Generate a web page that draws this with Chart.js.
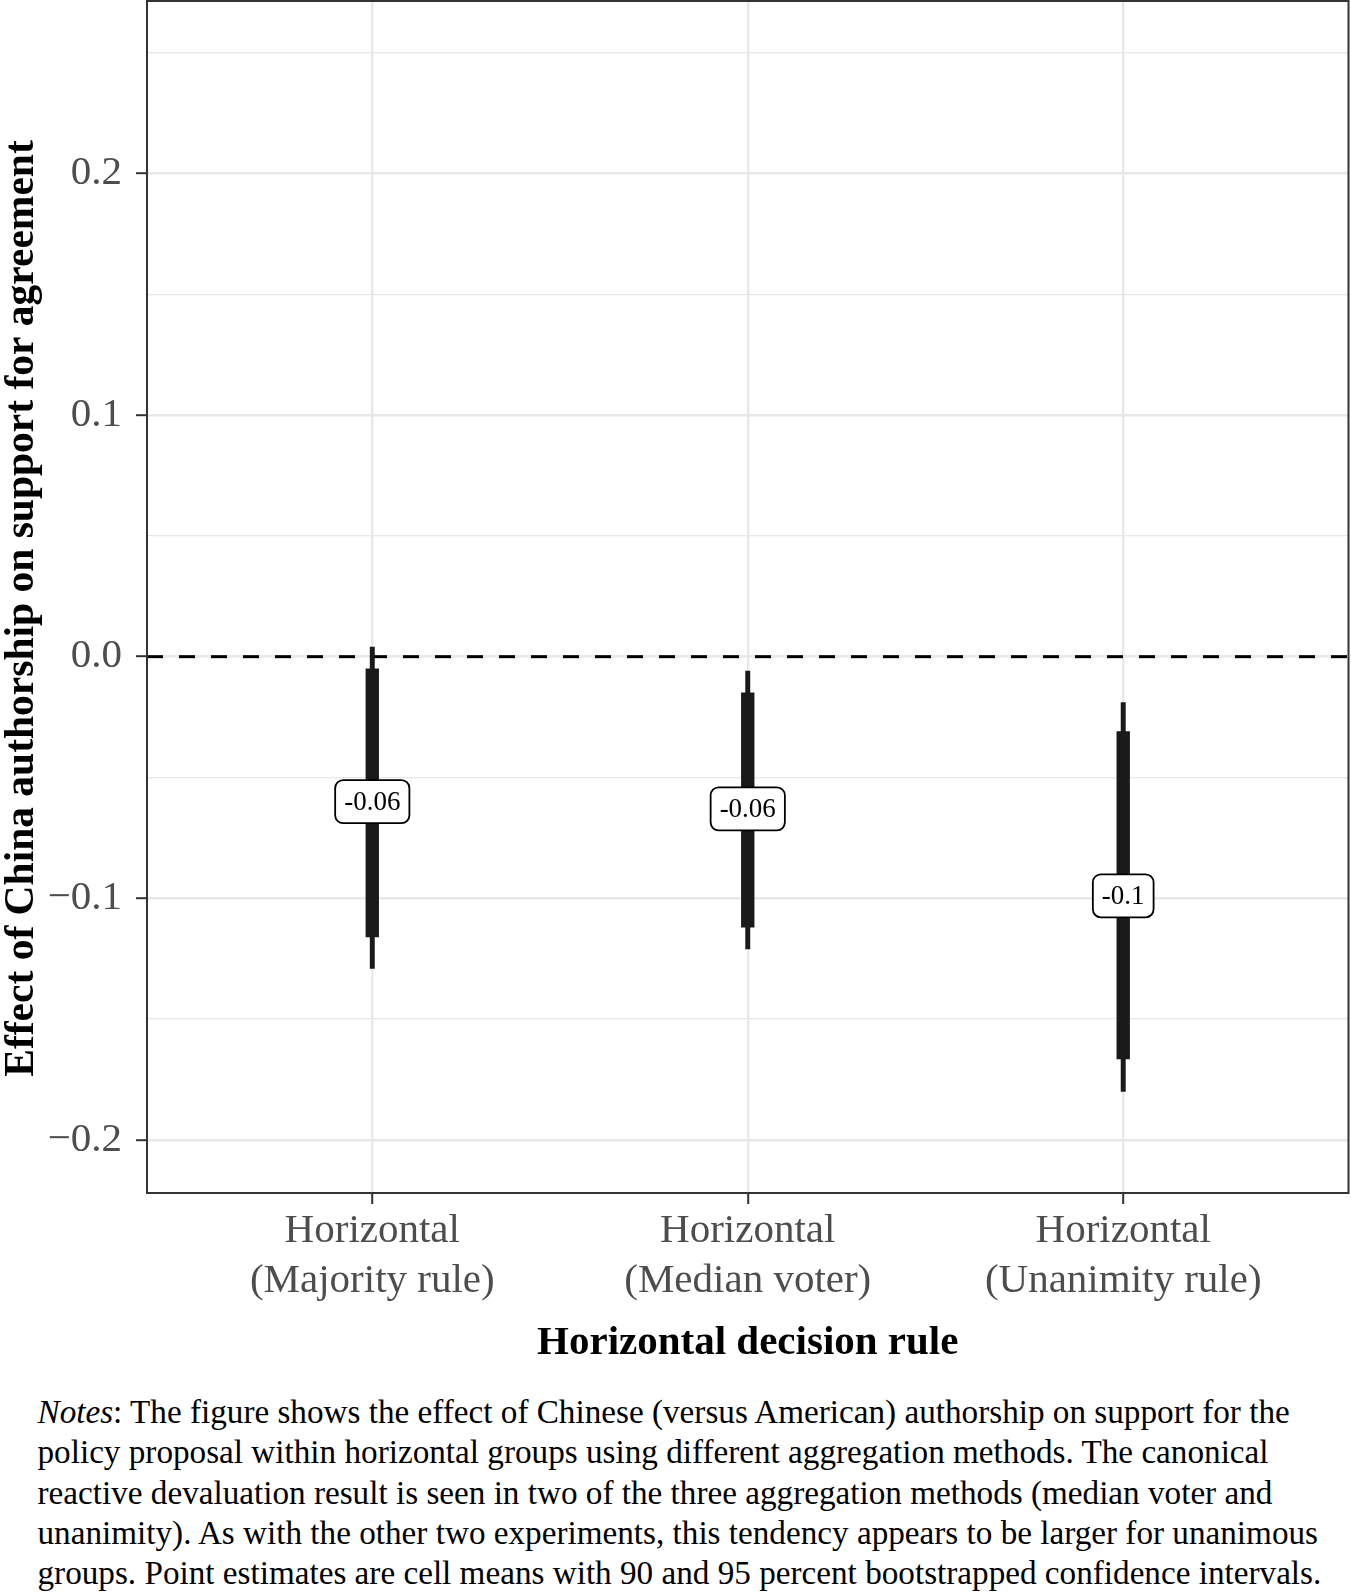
<!DOCTYPE html>
<html>
<head>
<meta charset="utf-8">
<script src="https://cdn.jsdelivr.net/npm/chart.js@4.4.1/dist/chart.umd.min.js"></script>
<style>
  html, body { margin: 0; padding: 0; background: #ffffff; }
  body { width: 1351px; height: 1592px; position: relative; overflow: hidden; }
  #chart { position: absolute; left: 0; top: 0; }
  #notes {
    position: absolute; left: 37.5px; top: 1392px;
    font-family: "Liberation Serif", serif; font-size: 33.2px; line-height: 40.3px;
    color: #000; white-space: nowrap;
  }
</style>
</head>
<body>
<canvas id="chart" width="1351" height="1380"></canvas>
<div id="notes">
<i>Notes</i>: The figure shows the effect of Chinese (versus American) authorship on support for the<br>
policy proposal within horizontal groups using different aggregation methods. The canonical<br>
reactive devaluation result is seen in two of the three aggregation methods (median voter and<br>
unanimity). As with the other two experiments, this tendency appears to be larger for unanimous<br>
groups. Point estimates are cell means with 90 and 95 percent bootstrapped confidence intervals.
</div>
<script>
// ---- data ----
const categories = [
  ["Horizontal", "(Majority rule)"],
  ["Horizontal", "(Median voter)"],
  ["Horizontal", "(Unanimity rule)"]
];
const categoryPos = [1, 2, 3];
const estimate = [-0.060, -0.063, -0.099];
const ci90Low  = [-0.116, -0.112, -0.1665];
const ci90High = [-0.005, -0.015, -0.031];
const ci95Low  = [-0.129, -0.121, -0.180];
const ci95High = [0.004, -0.006, -0.019];
const yMajorTicks = [-0.2, -0.1, 0.0, 0.1, 0.2];
const yMinorTicks = [-0.15, -0.05, 0.05, 0.15, 0.25];
const xTitle = "Horizontal decision rule";
const yTitle = "Effect of China authorship on support for agreement";

// ---- helpers ----
const SERIF = '"Liberation Serif", "Times New Roman", serif';
const isMajor = v => yMajorTicks.some(t => Math.abs(t - v) < 1e-9);
const fmtTick = v => {
  const s = Math.abs(v).toFixed(1);
  return v < -1e-9 ? "\u2212" + s : s;
};
const fmtLabel = v => String(Math.round(v * 100) / 100);

const panelPlugin = {
  id: 'panel',
  beforeDatasetsDraw(chart) {
    const {ctx, chartArea: a, scales: {y}} = chart;
    const yy = y.getPixelForValue(0);
    ctx.save();
    ctx.strokeStyle = '#000000';
    ctx.lineWidth = 3;
    ctx.setLineDash([16, 16]);
    ctx.beginPath();
    ctx.moveTo(a.left, yy);
    ctx.lineTo(a.right, yy);
    ctx.stroke();
    ctx.restore();
  },
  afterDatasetsDraw(chart) {
    const {ctx, scales: {x, y}} = chart;
    ctx.save();
    ctx.font = '27px ' + SERIF;
    ctx.textAlign = 'center';
    ctx.textBaseline = 'middle';
    estimate.forEach((v, i) => {
      const px = x.getPixelForValue(categoryPos[i]);
      const py = y.getPixelForValue(v);
      const text = fmtLabel(v);
      const w = ctx.measureText(text).width + 18;
      const h = 43;
      ctx.beginPath();
      ctx.roundRect(px - w / 2, py - h / 2, w, h, 8);
      ctx.fillStyle = '#ffffff';
      ctx.fill();
      ctx.lineWidth = 1.8;
      ctx.strokeStyle = '#000000';
      ctx.stroke();
      ctx.fillStyle = '#000000';
      ctx.fillText(text, px, py + 1);
    });
    ctx.restore();
  },
  afterDraw(chart) {
    const {ctx, chartArea: a} = chart;
    ctx.save();
    ctx.strokeStyle = '#333333';
    ctx.lineWidth = 2;
    ctx.strokeRect(a.left, a.top, a.right - a.left, a.bottom - a.top);
    // y-axis title
    ctx.translate(22, 608.5);
    ctx.rotate(-Math.PI / 2);
    ctx.font = 'bold 41.5px ' + SERIF;
    ctx.fillStyle = '#000000';
    ctx.textAlign = 'center';
    ctx.textBaseline = 'middle';
    ctx.fillText(yTitle, 0, 0);
    ctx.restore();
  }
};

const PLOT_BOTTOM = 1193;
const CANVAS_H = 1380;

new Chart(document.getElementById('chart'), {
  type: 'bar',
  data: {
    datasets: [
      {
        label: '95% CI',
        data: categoryPos.map((p, i) => ({x: p, y: [ci95Low[i], ci95High[i]]})),
        backgroundColor: '#1a1a1a',
        barThickness: 4.3,
        grouped: false,
        borderWidth: 0,
        order: 2
      },
      {
        label: '90% CI',
        data: categoryPos.map((p, i) => ({x: p, y: [ci90Low[i], ci90High[i]]})),
        backgroundColor: '#1a1a1a',
        barThickness: 12.7,
        grouped: false,
        borderWidth: 0,
        order: 1
      }
    ]
  },
  options: {
    responsive: false,
    animation: false,
    layout: { padding: { top: 1, right: 2.5, bottom: 0, left: 0 } },
    plugins: { legend: { display: false }, tooltip: { enabled: false } },
    scales: {
      x: {
        type: 'linear',
        min: 0.4,
        max: 3.6,
        offset: false,
        afterBuildTicks: s => { s.ticks = categoryPos.map(v => ({value: v})); },
        afterFit: s => {
          s.height = CANVAS_H - PLOT_BOTTOM;
          s.paddingLeft = 0; s.paddingRight = 0;
        },
        border: { display: false },
        grid: {
          offset: false,
          color: '#e8e8e8',
          lineWidth: 2.4,
          tickColor: '#333333',
          tickWidth: 2,
          tickLength: 11
        },
        ticks: {
          autoSkip: false,
          maxRotation: 0,
          minRotation: 0,
          padding: 2,
          color: '#4d4d4d',
          font: { family: SERIF, size: 41, lineHeight: 50 / 41 },
          callback: v => categories[categoryPos.indexOf(v)] || ''
        },
        title: {
          display: true,
          text: xTitle,
          color: '#000000',
          font: { family: SERIF, size: 41, weight: 'bold', lineHeight: 1.2 },
          padding: { top: 0, bottom: 12 }
        }
      },
      y: {
        type: 'linear',
        min: -0.222,
        max: 0.2714,
        afterBuildTicks: s => {
          s.ticks = yMajorTicks.concat(yMinorTicks).sort((a, b) => a - b).map(v => ({value: v}));
        },
        afterFit: s => {
          s.width = 147;
          s.paddingTop = 0; s.paddingBottom = 0;
        },
        border: { display: false },
        grid: {
          color: '#e8e8e8',
          lineWidth: ctx => (ctx.tick && isMajor(ctx.tick.value)) ? 2.4 : 1.2,
          tickColor: ctx => (ctx.tick && isMajor(ctx.tick.value)) ? '#333333' : 'rgba(0,0,0,0)',
          tickWidth: 2,
          tickLength: 11
        },
        ticks: {
          autoSkip: false,
          padding: 14,
          color: '#4d4d4d',
          font: { family: SERIF, size: 41 },
          callback: v => isMajor(v) ? fmtTick(v) : ''
        },
        title: { display: false }
      }
    }
  },
  plugins: [panelPlugin]
});
</script>
</body>
</html>
